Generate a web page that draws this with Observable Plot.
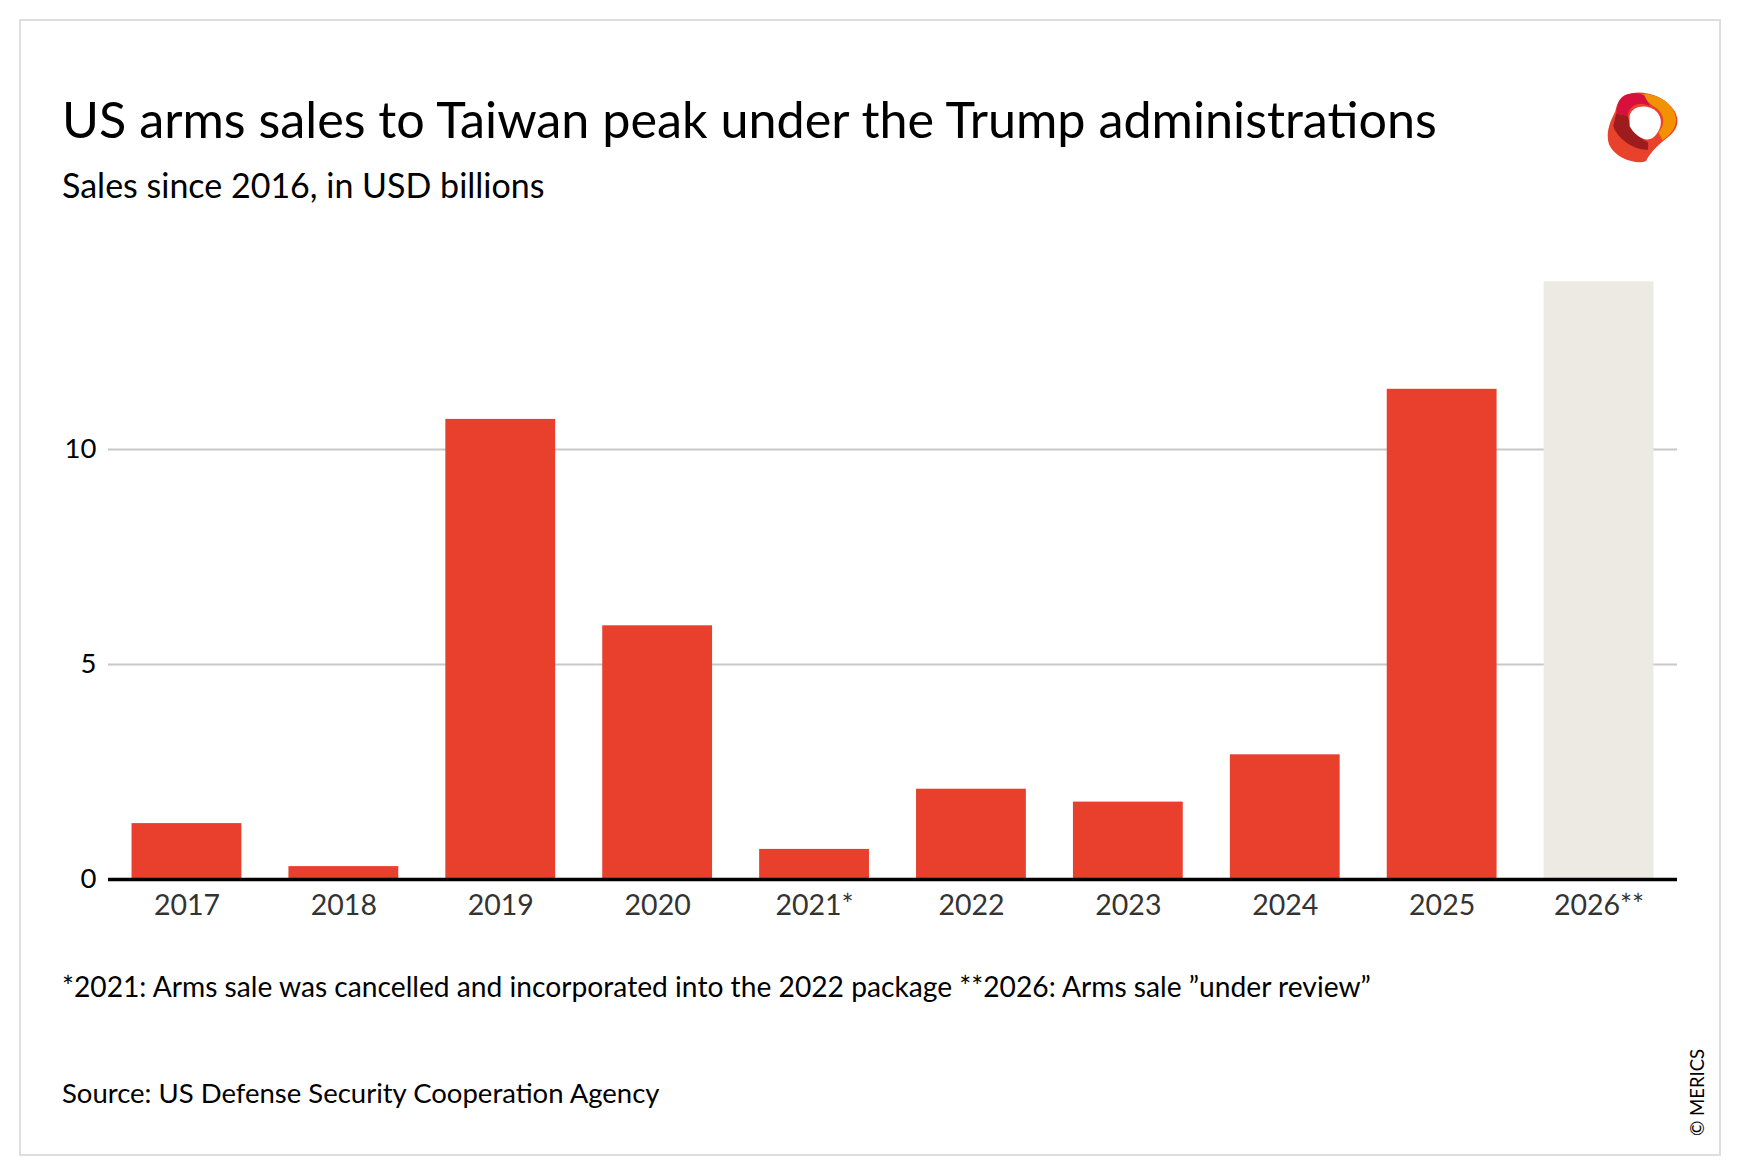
<!DOCTYPE html>
<html>
<head>
<meta charset="utf-8">
<script src="https://cdn.jsdelivr.net/npm/d3@7"></script>
<script src="https://cdn.jsdelivr.net/npm/@observablehq/plot@0.6"></script>
<style>
  html, body { margin: 0; padding: 0; background: #fff; }
  body { width: 1740px; height: 1176px; position: relative; overflow: hidden; font-family: Lato, "Noto Sans", sans-serif; color: #000; }
  #frame { position: absolute; left: 19px; top: 19px; width: 1698px; height: 1133px; border: 2px solid #dedede; }
  .t { position: absolute; white-space: nowrap; }
  #title { left: 62px; top: 89px; font-size: 50.3px; line-height: 60px; }
  #subtitle { left: 62px; top: 165px; font-size: 34px; line-height: 40px; }
  #chart { position: absolute; left: 0; top: 241px; }
  #note { left: 62px; top: 969px; font-size: 28.2px; line-height: 34px; }
  #source { left: 62px; top: 1076px; font-size: 27.5px; line-height: 34px; }
  #merics { left: 1686px; top: 1136px; font-size: 18.5px; transform-origin: 0 0; transform: rotate(-90deg); line-height: 22px; }
  #logo { position: absolute; left: 1607px; top: 91px; }
</style>
</head>
<body>
<div id="frame"></div>
<div class="t" id="title">US arms sales to Taiwan peak under the Trump administrations</div>
<div class="t" id="subtitle">Sales since 2016, in USD billions</div>
<svg id="logo" width="72" height="72" viewBox="0 0 70 70">
  <path d="M18,4 C30,-2 55,2 66,20 C72,32 66,40 58,46 C50,52 42,60 38,68 C30,72 8,66 2,52 C-2,40 4,28 8,20 C10,12 12,7 18,4 Z" fill="#E8412C"/>
  <path d="M32,3 C48,2 62,10 66,22 C70,34 62,42 54,48 L50,40 C58,32 56,20 44,14 Z" fill="#F39200"/>
  <path d="M18,4 C26,1 32,2 36,4 L42,15 C34,10 22,12 20,24 L9,22 C10,12 12,7 18,4 Z" fill="#D8103E"/>
  <path d="M9,22 L20,24 C22,34 28,44 40,50 L40,57 C26,58 10,46 6,34 Z" fill="#9E1B1E"/>
  <path d="M22,24 C24,14 40,12 48,20 C56,28 52,40 44,46 C36,50 26,42 22,34 Z" fill="#ffffff"/>
</svg>
<div id="chart"></div>
<div class="t" id="note">*2021: Arms sale was cancelled and incorporated into the 2022 package **2026: Arms sale ”under review”</div>
<div class="t" id="source">Source: US Defense Security Cooperation Agency</div>
<div class="t" id="merics">© MERICS</div>
<script>
const years = ["2017", "2018", "2019", "2020", "2021*", "2022", "2023", "2024", "2025", "2026**"];
const values = [1.3, 0.3, 10.7, 5.9, 0.7, 2.1, 1.8, 2.9, 11.4, 13.9];
const statuses = ["Approved", "Approved", "Approved", "Approved", "Approved", "Approved", "Approved", "Approved", "Approved", "Under review"];
const yTicks = [0, 5, 10];
const gridTicks = [5, 10];

const data = years.map((y, i) => ({year: y, value: values[i], status: statuses[i]}));

const chart = Plot.plot({
  width: 1740,
  height: 700,
  marginLeft: 108,
  marginRight: 63,
  marginTop: 36,
  marginBottom: 62,
  style: {fontFamily: "Lato, 'Noto Sans', sans-serif", background: "transparent", color: "#000", overflow: "visible"},
  x: {domain: years, paddingInner: 0.3, paddingOuter: 0.15, round: false, label: null},
  y: {domain: [0, 14], label: null},
  color: {domain: ["Approved", "Under review"], range: ["#E8402D", "#EDE9E3"]},
  marks: [
    Plot.gridY(gridTicks, {stroke: "#c8c8c8", strokeOpacity: 1, strokeWidth: 2}),
    Plot.barY(data, {x: "year", y: "value", fill: "status"}),
    Plot.ruleY([0], {stroke: "#000", strokeWidth: 3.5}),
    Plot.axisY(yTicks, {tickSize: 0, tickPadding: 12, fontSize: 27.5, fill: "#000", label: null}),
    Plot.axisX({tickSize: 0, tickPadding: 15, fontSize: 28.5, fill: "#333", label: null, style: {letterSpacing: "0.6px"}})
  ]
});
document.getElementById("chart").appendChild(chart);
</script>
</body>
</html>
